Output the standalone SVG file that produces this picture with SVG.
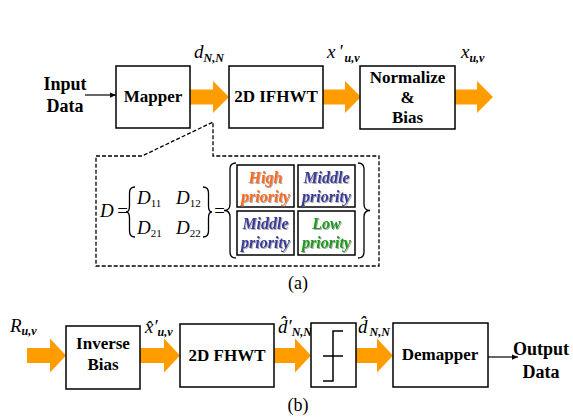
<svg xmlns="http://www.w3.org/2000/svg" width="573" height="419" viewBox="0 0 573 419">
<defs>
<style>
.box{fill:#fff;stroke:#000;stroke-width:1.5}
.lbl{font-weight:bold;font-size:17px;text-anchor:middle;fill:#000}
.io{font-weight:bold;font-size:18px;text-anchor:middle;fill:#000}
.m{font-style:italic;font-size:19px;fill:#000}
.sub{font-weight:bold;font-size:12px}
.ba{fill:#FF9C00}
.thin{stroke:#000;stroke-width:1.2;fill:none}
.cell{fill:#fff;stroke:#000;stroke-width:1.5}
.pr{font-style:italic;font-weight:bold;font-size:16px;text-anchor:middle;filter:url(#sh)}
.br{fill:none;stroke:#000;stroke-width:1.3}
.cap{font-size:18px;text-anchor:middle;fill:#000}
</style>
<filter id="sh" x="-10%" y="-10%" width="130%" height="140%"><feDropShadow dx="1" dy="1" stdDeviation="0.4" flood-color="#777" flood-opacity="0.6"/></filter>
<marker id="ah" viewBox="0 0 8 8" refX="8" refY="4" markerWidth="6" markerHeight="6" orient="auto" markerUnits="userSpaceOnUse"><path d="M0,0.5 L8,4 L0,7.5 Z" fill="#000"/></marker>
</defs>
<g font-family="'Liberation Serif', 'Times New Roman', serif">
<g id="connectors">
<path class="ba" d="M190,89.5 H213 V81 L229,97 L213,113 V104.5 H190 Z"/>
<path class="ba" d="M323,89.5 H345 V81 L361,97 L345,113 V104.5 H323 Z"/>
<path class="ba" d="M455,89.5 H477 V81 L493,97 L477,113 V104.5 H455 Z"/>
<line class="thin" x1="85" y1="95" x2="116" y2="95" marker-end="url(#ah)"/>
<path class="ba" d="M27,348 H50 V338.5 L66,355.5 L50,372.5 V363 H27 Z"/>
<path class="ba" d="M140,348 H164 V338.5 L180,355.5 L164,372.5 V363 H140 Z"/>
<path class="ba" d="M274,348 H295 V338.5 L311,355.5 L295,372.5 V363 H274 Z"/>
<path class="ba" d="M356,348 H377 V338.5 L393,355.5 L377,372.5 V363 H356 Z"/>
<line class="thin" x1="488" y1="357" x2="518" y2="357" marker-end="url(#ah)"/>
</g>

<g id="input">
<text class="io" x="65" y="90">Input</text>
<text class="io" x="65" y="112">Data</text>
</g>
<g id="mapper">
<rect class="box" x="116" y="66" width="74" height="62"/>
<text class="lbl" x="153" y="102">Mapper</text>
</g>
<g id="ifhwt">
<rect class="box" x="229" y="66" width="94" height="62"/>
<text class="lbl" x="276" y="102">2D IFHWT</text>
</g>
<g id="normalize">
<rect class="box" x="360" y="66" width="95" height="63"/>
<text class="lbl" x="407.5" y="83">Normalize</text>
<text class="lbl" x="407.5" y="103">&amp;</text>
<text class="lbl" x="407.5" y="123">Bias</text>
</g>

<g id="labels-top">
<text class="m" x="194" y="58">d<tspan class="sub" dy="4">N,N</tspan></text>
<text class="m" x="327" y="58">x<tspan dx="3">'</tspan><tspan class="sub" dy="4" dx="2">u,v</tspan></text>
<text class="m" x="461" y="58">x<tspan class="sub" dy="4">u,v</tspan></text>
</g>

<g id="callout">
<path d="M96,156 H142 L213,122 V156 H379 V266 H96 Z" fill="none" stroke="#000" stroke-width="1.3" stroke-dasharray="4,2"/>
<text class="m" x="100" y="217" font-size="20">D</text>
<text class="m" x="116" y="217" font-style="normal" font-size="20">=</text>
<path class="br" d="M135,187 Q129.5,187 129.5,193 V206 Q129.5,212 126,212 Q129.5,212 129.5,218 V231 Q129.5,237 135,237"/>
<text class="m" x="137" y="204">D<tspan font-size="11" font-style="normal" dy="3">11</tspan></text>
<text class="m" x="176" y="204">D<tspan font-size="11" font-style="normal" dy="3">12</tspan></text>
<text class="m" x="137" y="234">D<tspan font-size="11" font-style="normal" dy="3">21</tspan></text>
<text class="m" x="176" y="234">D<tspan font-size="11" font-style="normal" dy="3">22</tspan></text>
<path class="br" d="M203,187 Q208.5,187 208.5,193 V206 Q208.5,212 212,212 Q208.5,212 208.5,218 V231 Q208.5,237 203,237"/>
<text class="m" x="213" y="217" font-style="normal" font-size="20">=</text>
<path class="br" d="M236,163 Q230,163 230,169 V204 Q230,210.5 224,210.5 Q230,210.5 230,217 V252 Q230,258 236,258"/>
<path class="br" d="M358,163 Q364,163 364,169 V204 Q364,210.5 370,210.5 Q364,210.5 364,217 V252 Q364,258 358,258"/>
</g>

<g id="cell-high">
<rect class="cell" x="237" y="165" width="57" height="42"/>
<text class="pr" x="265.5" y="183" fill="#FF6A1A">High</text>
<text class="pr" x="265.5" y="202" fill="#FF6A1A">priority</text>
</g>
<g id="cell-middle1">
<rect class="cell" x="298" y="165" width="57" height="42"/>
<text class="pr" x="326.5" y="183" fill="#3A3A9A">Middle</text>
<text class="pr" x="326.5" y="202" fill="#3A3A9A">priority</text>
</g>
<g id="cell-middle2">
<rect class="cell" x="237" y="211" width="57" height="44"/>
<text class="pr" x="265.5" y="229" fill="#3A3A9A">Middle</text>
<text class="pr" x="265.5" y="248" fill="#3A3A9A">priority</text>
</g>
<g id="cell-low">
<rect class="cell" x="298" y="211" width="57" height="44"/>
<text class="pr" x="326.5" y="229" fill="#1A9A1A">Low</text>
<text class="pr" x="326.5" y="248" fill="#1A9A1A">priority</text>
</g>

<text class="cap" x="298" y="289">(a)</text>

<g id="labels-bottom">
<text class="m" x="10" y="332">R<tspan class="sub" dy="3">u,v</tspan></text>
<text class="m" x="145" y="333">x̂′<tspan class="sub" dy="3">u,v</tspan></text>
<text class="m" x="278" y="333">d̂′<tspan class="sub" dy="3">N,N</tspan></text>
<text class="m" x="358" y="333">d̂<tspan class="sub" dy="3" dx="2">N,N</tspan></text>
</g>

<g id="inverse-bias">
<rect class="box" x="66" y="326" width="74" height="63"/>
<text class="lbl" x="103" y="349">Inverse</text>
<text class="lbl" x="103" y="370">Bias</text>
</g>
<g id="fhwt">
<rect class="box" x="180" y="324" width="94" height="63"/>
<text class="lbl" x="227" y="361">2D FHWT</text>
</g>
<g id="threshold">
<rect class="box" x="311" y="323" width="45" height="64"/>
<path d="M343,331 H333 V381 H323 M323,356 H343" fill="none" stroke="#000" stroke-width="1.5"/>
</g>
<g id="demapper">
<rect class="box" x="393" y="323" width="95" height="64"/>
<text class="lbl" x="440" y="360">Demapper</text>
</g>
<g id="output">
<text class="io" x="541" y="355">Output</text>
<text class="io" x="541" y="378">Data</text>
</g>

<text class="cap" x="298" y="411">(b)</text>
</g>
</svg>
